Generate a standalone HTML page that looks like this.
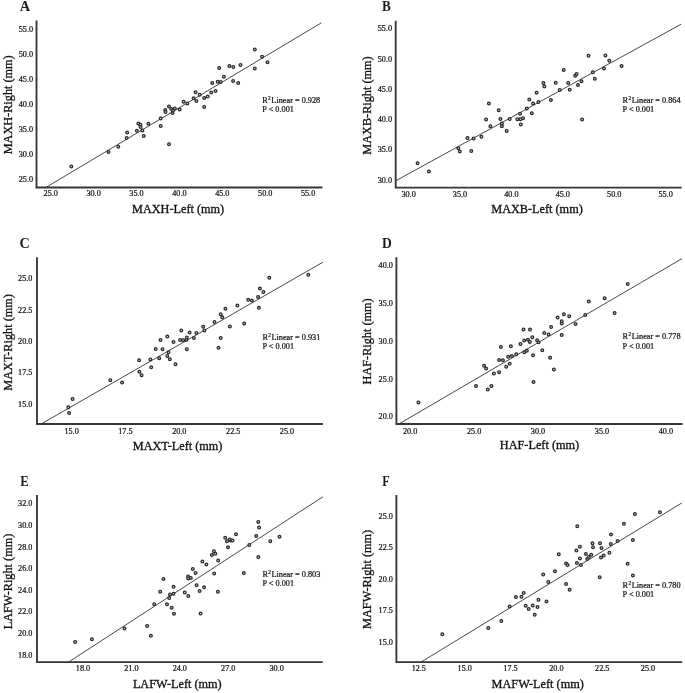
<!DOCTYPE html>
<html lang="en"><head><meta charset="utf-8"><title>Figure</title>
<style>
html,body{margin:0;padding:0;background:#fff;}
svg{display:block;filter:blur(0.3px);}
text{font-family:"Liberation Serif","Times New Roman",serif;fill:#111;stroke:#111;stroke-width:0.22px;}
.tk{font-size:8.2px;}
.tt{font-size:12.25px;stroke-width:0.3px;}
.an{font-size:8.25px;}
.lb{font-weight:bold;stroke:none;fill:#1c1c1c;}
.ax{stroke:#363636;stroke-width:1.85;fill:none;stroke-linecap:butt;}
.ln{stroke:#333;stroke-width:0.9;fill:none;}
.pt circle{fill:#d0d0d0;stroke:#2a2a2a;stroke-width:1.25;}
</style></head>
<body>
<svg width="685" height="693" viewBox="0 0 685 693">
<rect x="0" y="0" width="685" height="693" fill="#ffffff"/>
<g id="panel-A">
<text class="lb" text-anchor="middle" style="font-size:14.4px" transform="translate(25.0 11.2) scale(1.00 1)">A</text>
<path class="ax" d="M36.50 20.60V187.50H322.40"/>
<line class="ln" x1="45.8" y1="187.5" x2="321.4" y2="22.8"/>
<text class="tk" text-anchor="end" x="33.1" y="182.2">25.0</text>
<text class="tk" text-anchor="end" x="33.1" y="157.1">30.0</text>
<text class="tk" text-anchor="end" x="33.1" y="132.0">35.0</text>
<text class="tk" text-anchor="end" x="33.1" y="106.9">40.0</text>
<text class="tk" text-anchor="end" x="33.1" y="81.8">45.0</text>
<text class="tk" text-anchor="end" x="33.1" y="56.8">50.0</text>
<text class="tk" text-anchor="end" x="33.1" y="31.7">55.0</text>
<text class="tk" text-anchor="middle" x="50.7" y="196.1">25.0</text>
<text class="tk" text-anchor="middle" x="93.6" y="196.1">30.0</text>
<text class="tk" text-anchor="middle" x="136.5" y="196.1">35.0</text>
<text class="tk" text-anchor="middle" x="179.4" y="196.1">40.0</text>
<text class="tk" text-anchor="middle" x="222.3" y="196.1">45.0</text>
<text class="tk" text-anchor="middle" x="265.2" y="196.1">50.0</text>
<text class="tk" text-anchor="middle" x="308.1" y="196.1">55.0</text>
<text class="tt" text-anchor="middle" x="178.1" y="212.5">MAXH-Left (mm)</text>
<text class="tt" text-anchor="middle" transform="translate(11.8 104.8) rotate(-90)">MAXH-Right (mm)</text>
<text class="an" x="262.3" y="102.6">R<tspan dy="-3.1" dx="0.3" font-size="5.2">2</tspan><tspan dy="3.1" dx="-1.4"> Linear = 0.928</tspan></text>
<text class="an" x="262.3" y="111.8">P &lt; 0.001</text>
<g class="pt"><circle cx="71.3" cy="166.6" r="1.38"/><circle cx="108.5" cy="152.1" r="1.38"/><circle cx="118.3" cy="146.8" r="1.38"/><circle cx="126.6" cy="138.0" r="1.38"/><circle cx="127.1" cy="132.5" r="1.38"/><circle cx="136.9" cy="130.7" r="1.38"/><circle cx="138.4" cy="123.4" r="1.38"/><circle cx="140.4" cy="124.7" r="1.38"/><circle cx="140.6" cy="127.0" r="1.38"/><circle cx="142.4" cy="130.5" r="1.38"/><circle cx="143.7" cy="136.0" r="1.38"/><circle cx="148.4" cy="123.7" r="1.38"/><circle cx="160.7" cy="118.4" r="1.38"/><circle cx="160.7" cy="126.0" r="1.38"/><circle cx="169.0" cy="144.3" r="1.38"/><circle cx="165.3" cy="110.1" r="1.38"/><circle cx="165.5" cy="111.9" r="1.38"/><circle cx="169.0" cy="106.4" r="1.38"/><circle cx="171.3" cy="108.9" r="1.38"/><circle cx="172.5" cy="112.9" r="1.38"/><circle cx="173.0" cy="110.6" r="1.38"/><circle cx="174.8" cy="108.6" r="1.38"/><circle cx="179.6" cy="109.4" r="1.38"/><circle cx="183.6" cy="101.8" r="1.38"/><circle cx="187.3" cy="103.4" r="1.38"/><circle cx="193.6" cy="98.3" r="1.38"/><circle cx="195.6" cy="92.3" r="1.38"/><circle cx="196.4" cy="101.1" r="1.38"/><circle cx="199.7" cy="94.8" r="1.38"/><circle cx="204.2" cy="98.1" r="1.38"/><circle cx="204.2" cy="107.1" r="1.38"/><circle cx="207.7" cy="96.6" r="1.38"/><circle cx="211.2" cy="92.6" r="1.38"/><circle cx="212.2" cy="83.0" r="1.38"/><circle cx="215.5" cy="91.0" r="1.38"/><circle cx="217.7" cy="81.8" r="1.38"/><circle cx="220.7" cy="82.0" r="1.38"/><circle cx="219.2" cy="68.1" r="1.38"/><circle cx="223.9" cy="76.7" r="1.38"/><circle cx="229.4" cy="65.9" r="1.38"/><circle cx="233.3" cy="67.1" r="1.38"/><circle cx="233.1" cy="81.0" r="1.38"/><circle cx="238.2" cy="83.1" r="1.38"/><circle cx="240.5" cy="65.1" r="1.38"/><circle cx="254.8" cy="49.5" r="1.38"/><circle cx="254.8" cy="68.6" r="1.38"/><circle cx="262.1" cy="56.7" r="1.38"/><circle cx="267.5" cy="62.2" r="1.38"/></g>
</g>
<g id="panel-B">
<text class="lb" text-anchor="middle" style="font-size:13.9px" transform="translate(386.4 11.0) scale(0.95 1)">B</text>
<path class="ax" d="M395.70 20.70V187.60H681.70"/>
<line class="ln" x1="395.7" y1="180.8" x2="681.2" y2="24.2"/>
<text class="tk" text-anchor="end" x="392.0" y="182.7">30.0</text>
<text class="tk" text-anchor="end" x="392.0" y="152.4">35.0</text>
<text class="tk" text-anchor="end" x="392.0" y="122.1">40.0</text>
<text class="tk" text-anchor="end" x="392.0" y="91.9">45.0</text>
<text class="tk" text-anchor="end" x="392.0" y="61.6">50.0</text>
<text class="tk" text-anchor="end" x="392.0" y="31.3">55.0</text>
<text class="tk" text-anchor="middle" x="408.6" y="196.8">30.0</text>
<text class="tk" text-anchor="middle" x="460.0" y="196.8">35.0</text>
<text class="tk" text-anchor="middle" x="511.4" y="196.8">40.0</text>
<text class="tk" text-anchor="middle" x="562.8" y="196.8">45.0</text>
<text class="tk" text-anchor="middle" x="614.2" y="196.8">50.0</text>
<text class="tk" text-anchor="middle" x="665.6" y="196.8">55.0</text>
<text class="tt" text-anchor="middle" x="537.0" y="213.0">MAXB-Left (mm)</text>
<text class="tt" text-anchor="middle" transform="translate(370.8 105.5) rotate(-90)">MAXB-Right (mm)</text>
<text class="an" x="622.6" y="102.6">R<tspan dy="-3.1" dx="0.3" font-size="5.2">2</tspan><tspan dy="3.1" dx="-1.4"> Linear = 0.864</tspan></text>
<text class="an" x="622.6" y="111.8">P &lt; 0.001</text>
<g class="pt"><circle cx="417.6" cy="163.2" r="1.38"/><circle cx="428.9" cy="171.4" r="1.38"/><circle cx="458.3" cy="148.3" r="1.38"/><circle cx="459.8" cy="151.6" r="1.38"/><circle cx="467.5" cy="138.0" r="1.38"/><circle cx="471.3" cy="150.9" r="1.38"/><circle cx="473.6" cy="138.5" r="1.38"/><circle cx="481.4" cy="136.8" r="1.38"/><circle cx="486.1" cy="119.5" r="1.38"/><circle cx="488.9" cy="103.6" r="1.38"/><circle cx="490.4" cy="126.2" r="1.38"/><circle cx="498.7" cy="110.2" r="1.38"/><circle cx="500.4" cy="119.0" r="1.38"/><circle cx="501.9" cy="123.5" r="1.38"/><circle cx="501.9" cy="126.2" r="1.38"/><circle cx="506.7" cy="131.0" r="1.38"/><circle cx="509.7" cy="119.0" r="1.38"/><circle cx="517.3" cy="119.2" r="1.38"/><circle cx="520.0" cy="113.7" r="1.38"/><circle cx="520.5" cy="119.2" r="1.38"/><circle cx="523.0" cy="118.2" r="1.38"/><circle cx="520.8" cy="124.5" r="1.38"/><circle cx="526.8" cy="108.4" r="1.38"/><circle cx="529.3" cy="99.4" r="1.38"/><circle cx="531.8" cy="113.2" r="1.38"/><circle cx="533.1" cy="103.4" r="1.38"/><circle cx="536.6" cy="92.8" r="1.38"/><circle cx="538.4" cy="102.1" r="1.38"/><circle cx="543.4" cy="83.1" r="1.38"/><circle cx="544.4" cy="86.6" r="1.38"/><circle cx="550.9" cy="100.1" r="1.38"/><circle cx="555.7" cy="82.8" r="1.38"/><circle cx="559.7" cy="90.1" r="1.38"/><circle cx="563.7" cy="70.0" r="1.38"/><circle cx="568.2" cy="83.1" r="1.38"/><circle cx="569.7" cy="89.8" r="1.38"/><circle cx="575.2" cy="75.8" r="1.38"/><circle cx="576.6" cy="73.9" r="1.38"/><circle cx="578.0" cy="85.0" r="1.38"/><circle cx="581.5" cy="81.3" r="1.38"/><circle cx="582.1" cy="119.5" r="1.38"/><circle cx="588.5" cy="55.8" r="1.38"/><circle cx="592.9" cy="72.3" r="1.38"/><circle cx="594.8" cy="78.8" r="1.38"/><circle cx="604.0" cy="68.6" r="1.38"/><circle cx="605.4" cy="55.5" r="1.38"/><circle cx="609.3" cy="60.7" r="1.38"/><circle cx="621.6" cy="66.0" r="1.38"/></g>
</g>
<g id="panel-C">
<text class="lb" text-anchor="middle" style="font-size:14.2px" transform="translate(24.6 247.9) scale(1.00 1)">C</text>
<path class="ax" d="M37.00 257.30V424.00H322.90"/>
<line class="ln" x1="41.1" y1="424.0" x2="322.9" y2="262.2"/>
<text class="tk" text-anchor="end" x="32.4" y="406.9">15.0</text>
<text class="tk" text-anchor="end" x="32.4" y="375.4">17.5</text>
<text class="tk" text-anchor="end" x="32.4" y="344.0">20.0</text>
<text class="tk" text-anchor="end" x="32.4" y="312.5">22.5</text>
<text class="tk" text-anchor="end" x="32.4" y="281.1">25.0</text>
<text class="tk" text-anchor="middle" x="71.6" y="433.5">15.0</text>
<text class="tk" text-anchor="middle" x="125.4" y="433.5">17.5</text>
<text class="tk" text-anchor="middle" x="179.3" y="433.5">20.0</text>
<text class="tk" text-anchor="middle" x="233.2" y="433.5">22.5</text>
<text class="tk" text-anchor="middle" x="287.0" y="433.5">25.0</text>
<text class="tt" text-anchor="middle" x="177.6" y="450.0">MAXT-Left (mm)</text>
<text class="tt" text-anchor="middle" transform="translate(11.8 342.4) rotate(-90)">MAXT-Right (mm)</text>
<text class="an" x="262.4" y="339.8">R<tspan dy="-3.1" dx="0.3" font-size="5.2">2</tspan><tspan dy="3.1" dx="-1.4"> Linear = 0.931</tspan></text>
<text class="an" x="262.4" y="349.0">P &lt; 0.001</text>
<g class="pt"><circle cx="68.3" cy="407.2" r="1.38"/><circle cx="69.1" cy="413.0" r="1.38"/><circle cx="72.6" cy="398.9" r="1.38"/><circle cx="110.3" cy="380.3" r="1.38"/><circle cx="122.1" cy="382.6" r="1.38"/><circle cx="139.1" cy="360.2" r="1.38"/><circle cx="139.4" cy="371.8" r="1.38"/><circle cx="141.6" cy="375.3" r="1.38"/><circle cx="150.4" cy="359.5" r="1.38"/><circle cx="151.2" cy="367.3" r="1.38"/><circle cx="155.7" cy="348.9" r="1.38"/><circle cx="159.2" cy="358.2" r="1.38"/><circle cx="160.5" cy="339.9" r="1.38"/><circle cx="162.5" cy="349.2" r="1.38"/><circle cx="167.3" cy="336.4" r="1.38"/><circle cx="167.3" cy="356.0" r="1.38"/><circle cx="168.5" cy="352.2" r="1.38"/><circle cx="169.8" cy="359.2" r="1.38"/><circle cx="173.5" cy="341.9" r="1.38"/><circle cx="175.5" cy="364.3" r="1.38"/><circle cx="180.1" cy="339.9" r="1.38"/><circle cx="181.3" cy="330.6" r="1.38"/><circle cx="183.1" cy="340.2" r="1.38"/><circle cx="186.3" cy="339.9" r="1.38"/><circle cx="186.8" cy="337.4" r="1.38"/><circle cx="186.8" cy="349.2" r="1.38"/><circle cx="189.6" cy="332.4" r="1.38"/><circle cx="193.9" cy="337.9" r="1.38"/><circle cx="196.4" cy="333.1" r="1.38"/><circle cx="203.2" cy="326.8" r="1.38"/><circle cx="204.4" cy="330.6" r="1.38"/><circle cx="214.5" cy="322.1" r="1.38"/><circle cx="218.5" cy="347.7" r="1.38"/><circle cx="220.7" cy="338.1" r="1.38"/><circle cx="220.7" cy="314.3" r="1.38"/><circle cx="222.3" cy="317.2" r="1.38"/><circle cx="225.4" cy="308.8" r="1.38"/><circle cx="229.9" cy="326.4" r="1.38"/><circle cx="237.4" cy="305.5" r="1.38"/><circle cx="244.2" cy="323.5" r="1.38"/><circle cx="248.2" cy="299.8" r="1.38"/><circle cx="251.9" cy="300.4" r="1.38"/><circle cx="258.1" cy="296.9" r="1.38"/><circle cx="258.9" cy="307.8" r="1.38"/><circle cx="259.9" cy="288.4" r="1.38"/><circle cx="263.4" cy="292.0" r="1.38"/><circle cx="269.3" cy="277.7" r="1.38"/><circle cx="308.3" cy="274.7" r="1.38"/></g>
</g>
<g id="panel-D">
<text class="lb" text-anchor="middle" style="font-size:14.0px" transform="translate(386.8 248.0) scale(0.97 1)">D</text>
<path class="ax" d="M396.40 257.30V424.00H682.50"/>
<line class="ln" x1="398.8" y1="424.0" x2="681.9" y2="258.7"/>
<text class="tk" text-anchor="end" x="392.9" y="419.4">20.0</text>
<text class="tk" text-anchor="end" x="392.9" y="381.6">25.0</text>
<text class="tk" text-anchor="end" x="392.9" y="343.9">30.0</text>
<text class="tk" text-anchor="end" x="392.9" y="306.1">35.0</text>
<text class="tk" text-anchor="end" x="392.9" y="268.2">40.0</text>
<text class="tk" text-anchor="middle" x="410.1" y="433.5">20.0</text>
<text class="tk" text-anchor="middle" x="474.1" y="433.5">25.0</text>
<text class="tk" text-anchor="middle" x="538.0" y="433.5">30.0</text>
<text class="tk" text-anchor="middle" x="602.0" y="433.5">35.0</text>
<text class="tk" text-anchor="middle" x="665.9" y="433.5">40.0</text>
<text class="tt" text-anchor="middle" x="539.5" y="449.1">HAF-Left (mm)</text>
<text class="tt" text-anchor="middle" transform="translate(370.8 341.4) rotate(-90)">HAF-Right (mm)</text>
<text class="an" x="622.6" y="339.3">R<tspan dy="-3.1" dx="0.3" font-size="5.2">2</tspan><tspan dy="3.1" dx="-1.4"> Linear = 0.778</tspan></text>
<text class="an" x="622.6" y="348.5">P &lt; 0.001</text>
<g class="pt"><circle cx="418.5" cy="402.4" r="1.38"/><circle cx="476.0" cy="385.9" r="1.38"/><circle cx="484.1" cy="365.8" r="1.38"/><circle cx="486.1" cy="368.5" r="1.38"/><circle cx="487.8" cy="389.4" r="1.38"/><circle cx="491.4" cy="385.9" r="1.38"/><circle cx="493.9" cy="373.6" r="1.38"/><circle cx="499.1" cy="372.3" r="1.38"/><circle cx="499.1" cy="360.0" r="1.38"/><circle cx="502.9" cy="360.3" r="1.38"/><circle cx="500.9" cy="347.0" r="1.38"/><circle cx="506.2" cy="366.8" r="1.38"/><circle cx="508.2" cy="356.7" r="1.38"/><circle cx="509.7" cy="363.8" r="1.38"/><circle cx="510.9" cy="346.2" r="1.38"/><circle cx="511.9" cy="356.0" r="1.38"/><circle cx="516.2" cy="354.2" r="1.38"/><circle cx="520.5" cy="343.9" r="1.38"/><circle cx="523.5" cy="329.6" r="1.38"/><circle cx="524.2" cy="340.4" r="1.38"/><circle cx="524.2" cy="352.2" r="1.38"/><circle cx="526.8" cy="350.7" r="1.38"/><circle cx="528.0" cy="339.7" r="1.38"/><circle cx="529.8" cy="341.9" r="1.38"/><circle cx="530.0" cy="329.6" r="1.38"/><circle cx="532.3" cy="337.2" r="1.38"/><circle cx="533.0" cy="355.2" r="1.38"/><circle cx="533.5" cy="381.9" r="1.38"/><circle cx="537.1" cy="340.2" r="1.38"/><circle cx="538.6" cy="342.2" r="1.38"/><circle cx="542.3" cy="350.2" r="1.38"/><circle cx="544.3" cy="332.9" r="1.38"/><circle cx="548.6" cy="334.4" r="1.38"/><circle cx="550.1" cy="357.8" r="1.38"/><circle cx="551.1" cy="326.9" r="1.38"/><circle cx="553.9" cy="369.6" r="1.38"/><circle cx="557.6" cy="317.6" r="1.38"/><circle cx="561.7" cy="334.9" r="1.38"/><circle cx="561.7" cy="321.3" r="1.38"/><circle cx="561.7" cy="323.4" r="1.38"/><circle cx="563.9" cy="314.3" r="1.38"/><circle cx="569.2" cy="316.3" r="1.38"/><circle cx="575.5" cy="324.1" r="1.38"/><circle cx="585.2" cy="315.1" r="1.38"/><circle cx="588.8" cy="301.4" r="1.38"/><circle cx="604.6" cy="298.2" r="1.38"/><circle cx="614.6" cy="313.1" r="1.38"/><circle cx="627.7" cy="284.1" r="1.38"/></g>
</g>
<g id="panel-E">
<text class="lb" text-anchor="middle" style="font-size:14.0px" transform="translate(24.5 485.8) scale(0.91 1)">E</text>
<path class="ax" d="M37.00 494.90V662.10H322.80"/>
<line class="ln" x1="68.5" y1="662.1" x2="322.9" y2="496.8"/>
<text class="tk" text-anchor="end" x="32.4" y="657.5">18.0</text>
<text class="tk" text-anchor="end" x="32.4" y="635.9">20.0</text>
<text class="tk" text-anchor="end" x="32.4" y="614.3">22.0</text>
<text class="tk" text-anchor="end" x="32.4" y="592.7">24.0</text>
<text class="tk" text-anchor="end" x="32.4" y="571.1">26.0</text>
<text class="tk" text-anchor="end" x="32.4" y="549.5">28.0</text>
<text class="tk" text-anchor="end" x="32.4" y="527.9">30.0</text>
<text class="tk" text-anchor="end" x="32.4" y="506.3">32.0</text>
<text class="tk" text-anchor="middle" x="83.0" y="671.3">18.0</text>
<text class="tk" text-anchor="middle" x="131.4" y="671.3">21.0</text>
<text class="tk" text-anchor="middle" x="179.8" y="671.3">24.0</text>
<text class="tk" text-anchor="middle" x="228.2" y="671.3">27.0</text>
<text class="tk" text-anchor="middle" x="276.6" y="671.3">30.0</text>
<text class="tt" text-anchor="middle" x="177.3" y="688.3">LAFW-Left (mm)</text>
<text class="tt" text-anchor="middle" transform="translate(11.8 581.5) rotate(-90)">LAFW-Right (mm)</text>
<text class="an" x="262.4" y="576.6">R<tspan dy="-3.1" dx="0.3" font-size="5.2">2</tspan><tspan dy="3.1" dx="-1.4"> Linear = 0.803</tspan></text>
<text class="an" x="262.4" y="585.8">P &lt; 0.001</text>
<g class="pt"><circle cx="75.1" cy="641.9" r="1.38"/><circle cx="91.9" cy="639.2" r="1.38"/><circle cx="124.5" cy="628.6" r="1.38"/><circle cx="147.1" cy="626.1" r="1.38"/><circle cx="150.9" cy="635.7" r="1.38"/><circle cx="154.2" cy="604.3" r="1.38"/><circle cx="160.2" cy="591.7" r="1.38"/><circle cx="163.5" cy="578.9" r="1.38"/><circle cx="167.0" cy="604.3" r="1.38"/><circle cx="169.2" cy="598.0" r="1.38"/><circle cx="170.0" cy="594.5" r="1.38"/><circle cx="171.7" cy="607.8" r="1.38"/><circle cx="173.5" cy="586.7" r="1.38"/><circle cx="173.5" cy="593.7" r="1.38"/><circle cx="174.0" cy="613.8" r="1.38"/><circle cx="184.8" cy="592.5" r="1.38"/><circle cx="188.1" cy="576.4" r="1.38"/><circle cx="188.3" cy="578.4" r="1.38"/><circle cx="188.3" cy="596.0" r="1.38"/><circle cx="190.8" cy="577.9" r="1.38"/><circle cx="192.8" cy="568.9" r="1.38"/><circle cx="195.6" cy="572.9" r="1.38"/><circle cx="196.6" cy="585.2" r="1.38"/><circle cx="199.6" cy="591.0" r="1.38"/><circle cx="200.6" cy="613.6" r="1.38"/><circle cx="202.4" cy="561.6" r="1.38"/><circle cx="204.1" cy="587.2" r="1.38"/><circle cx="206.4" cy="564.6" r="1.38"/><circle cx="211.9" cy="555.1" r="1.38"/><circle cx="213.9" cy="551.3" r="1.38"/><circle cx="214.2" cy="573.6" r="1.38"/><circle cx="215.4" cy="553.8" r="1.38"/><circle cx="217.9" cy="591.7" r="1.38"/><circle cx="218.2" cy="560.6" r="1.38"/><circle cx="227.0" cy="541.3" r="1.38"/><circle cx="228.0" cy="547.3" r="1.38"/><circle cx="230.7" cy="540.5" r="1.38"/><circle cx="225.2" cy="537.7" r="1.38"/><circle cx="229.7" cy="539.5" r="1.38"/><circle cx="232.5" cy="540.4" r="1.38"/><circle cx="236.0" cy="534.2" r="1.38"/><circle cx="243.8" cy="573.1" r="1.38"/><circle cx="249.3" cy="544.9" r="1.38"/><circle cx="256.2" cy="535.9" r="1.38"/><circle cx="258.3" cy="522.0" r="1.38"/><circle cx="258.3" cy="557.1" r="1.38"/><circle cx="259.1" cy="527.5" r="1.38"/><circle cx="270.3" cy="541.2" r="1.38"/><circle cx="279.5" cy="536.7" r="1.38"/></g>
</g>
<g id="panel-F">
<text class="lb" text-anchor="middle" style="font-size:14.0px" transform="translate(386.0 485.8) scale(0.87 1)">F</text>
<path class="ax" d="M396.40 494.90V662.10H682.20"/>
<line class="ln" x1="421.0" y1="662.1" x2="681.9" y2="502.9"/>
<text class="tk" text-anchor="end" x="392.9" y="644.5">15.0</text>
<text class="tk" text-anchor="end" x="392.9" y="613.1">17.5</text>
<text class="tk" text-anchor="end" x="392.9" y="581.6">20.0</text>
<text class="tk" text-anchor="end" x="392.9" y="550.2">22.5</text>
<text class="tk" text-anchor="end" x="392.9" y="518.8">25.0</text>
<text class="tk" text-anchor="middle" x="418.8" y="671.3">12.5</text>
<text class="tk" text-anchor="middle" x="464.7" y="671.3">15.0</text>
<text class="tk" text-anchor="middle" x="510.5" y="671.3">17.5</text>
<text class="tk" text-anchor="middle" x="556.4" y="671.3">20.0</text>
<text class="tk" text-anchor="middle" x="602.2" y="671.3">22.5</text>
<text class="tk" text-anchor="middle" x="648.0" y="671.3">25.0</text>
<text class="tt" text-anchor="middle" x="537.7" y="687.9">MAFW-Left (mm)</text>
<text class="tt" text-anchor="middle" transform="translate(370.8 579.4) rotate(-90)">MAFW-Right (mm)</text>
<text class="an" x="622.6" y="588.1">R<tspan dy="-3.1" dx="0.3" font-size="5.2">2</tspan><tspan dy="3.1" dx="-1.4"> Linear = 0.780</tspan></text>
<text class="an" x="622.6" y="597.3">P &lt; 0.001</text>
<g class="pt"><circle cx="442.3" cy="634.2" r="1.38"/><circle cx="488.3" cy="627.9" r="1.38"/><circle cx="501.3" cy="620.9" r="1.38"/><circle cx="509.6" cy="606.6" r="1.38"/><circle cx="515.9" cy="597.0" r="1.38"/><circle cx="521.4" cy="596.8" r="1.38"/><circle cx="523.7" cy="593.0" r="1.38"/><circle cx="525.7" cy="605.8" r="1.38"/><circle cx="528.7" cy="609.1" r="1.38"/><circle cx="532.7" cy="605.6" r="1.38"/><circle cx="534.7" cy="614.8" r="1.38"/><circle cx="537.5" cy="607.1" r="1.38"/><circle cx="538.5" cy="599.8" r="1.38"/><circle cx="546.5" cy="601.5" r="1.38"/><circle cx="543.2" cy="574.4" r="1.38"/><circle cx="548.3" cy="582.0" r="1.38"/><circle cx="555.0" cy="571.2" r="1.38"/><circle cx="558.8" cy="554.3" r="1.38"/><circle cx="566.1" cy="563.4" r="1.38"/><circle cx="566.1" cy="584.0" r="1.38"/><circle cx="567.6" cy="565.1" r="1.38"/><circle cx="569.6" cy="589.7" r="1.38"/><circle cx="576.4" cy="550.6" r="1.38"/><circle cx="576.9" cy="562.9" r="1.38"/><circle cx="579.9" cy="546.8" r="1.38"/><circle cx="579.9" cy="558.6" r="1.38"/><circle cx="580.9" cy="565.1" r="1.38"/><circle cx="585.9" cy="554.1" r="1.38"/><circle cx="587.2" cy="559.1" r="1.38"/><circle cx="588.9" cy="557.1" r="1.38"/><circle cx="591.2" cy="554.8" r="1.38"/><circle cx="592.5" cy="543.3" r="1.38"/><circle cx="593.0" cy="547.3" r="1.38"/><circle cx="599.7" cy="577.2" r="1.38"/><circle cx="600.0" cy="543.3" r="1.38"/><circle cx="601.0" cy="557.6" r="1.38"/><circle cx="601.5" cy="548.1" r="1.38"/><circle cx="577.3" cy="526.2" r="1.38"/><circle cx="603.7" cy="555.4" r="1.38"/><circle cx="609.4" cy="552.7" r="1.38"/><circle cx="610.8" cy="543.9" r="1.38"/><circle cx="611.0" cy="534.5" r="1.38"/><circle cx="617.6" cy="541.1" r="1.38"/><circle cx="623.9" cy="523.7" r="1.38"/><circle cx="627.6" cy="563.8" r="1.38"/><circle cx="632.9" cy="539.9" r="1.38"/><circle cx="632.9" cy="575.4" r="1.38"/><circle cx="634.9" cy="514.1" r="1.38"/><circle cx="659.9" cy="512.3" r="1.38"/></g>
</g>
</svg>
</body></html>
